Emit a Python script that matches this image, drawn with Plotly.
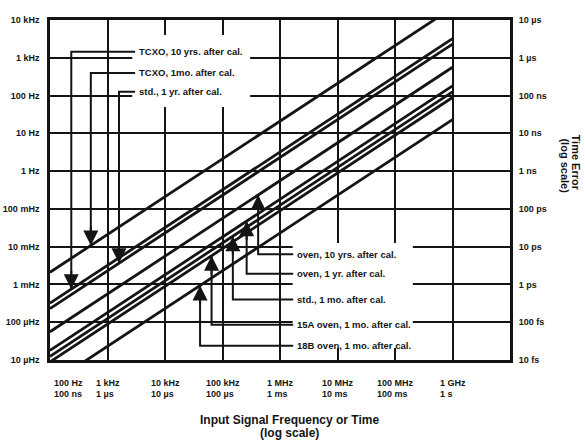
import math
import plotly.graph_objects as go

# ---------------- data ----------------
series_names = [
    "TCXO, 1mo. after cal.",
    "TCXO, 10 yrs. after cal.",
    "std., 1 yr. after cal.",
    "oven, 10 yrs. after cal.",
    "oven, 1 yr. after cal.",
    "std., 1 mo. after cal.",
    "15A oven, 1 mo. after cal.",
    "18B oven, 1 mo. after cal.",
]
line_freqs = [1e2, 1e9]                      # Hz, start / end of every line
err_at_100Hz = [2.1e-3, 3.2e-4, 2.3e-4, 5.6e-5, 1.8e-5, 1.25e-5, 8.9e-6, 2.3e-6]   # Hz
err_at_1GHz = [2.1e4, 3.2e3, 2.3e3, 5.6e2, 1.8e2, 1.25e2, 8.9e1, 2.3e1]            # Hz

x_tick_vals = [1e2, 1e3, 1e4, 1e5, 1e6, 1e7, 1e8, 1e9]
x_freq_text = ["100 Hz", "1 kHz", "10 kHz", "100 kHz", "1 MHz", "10 MHz", "100 MHz", "1 GHz"]
x_time_text = ["100 ns", "1 µs", "10 µs", "100 µs", "1 ms", "10 ms", "100 ms", "1 s"]

y_tick_vals = [1e-5, 1e-4, 1e-3, 1e-2, 1e-1, 1e0, 1e1, 1e2, 1e3, 1e4]
y_tick_text = ["10 µHz", "100 µHz", "1 mHz", "10 mHz", "100 mHz", "1 Hz", "10 Hz", "100 Hz", "1 kHz", "10 kHz"]

t_tick_vals = [1e-14, 1e-13, 1e-12, 1e-11, 1e-10, 1e-9, 1e-8, 1e-7, 1e-6, 1e-5]
t_tick_text = ["10 fs", "100 fs", "1 ps", "10 ps", "100 ps", "1 ns", "10 ns", "100 ns", "1 µs", "10 µs"]

# ---------------- layout helpers (positions in log10 units) ----------------
# (series index, label height, arrow x)
upper_callouts = [(1, 3.16, 2.37), (0, 2.60, 2.71), (2, 2.10, 3.20)]
upper_label_x = 3.48
lower_callouts = [(3, -2.20, 5.62), (4, -2.72, 5.42), (5, -3.40, 5.18), (6, -4.07, 4.81), (7, -4.62, 4.61)]
lower_label_x = 6.23

INK = "#141414"
FONT = "Liberation Sans, Arial, sans-serif"


def y_on_line(i, lx):
    """log10 of series i at log10 frequency lx (straight line on log-log axes)."""
    a0, a1 = math.log10(line_freqs[0]), math.log10(line_freqs[1])
    b0, b1 = math.log10(err_at_100Hz[i]), math.log10(err_at_1GHz[i])
    return b0 + (lx - a0) / (a1 - a0) * (b1 - b0)


fig = go.Figure()

for i, name in enumerate(series_names):
    fig.add_trace(go.Scatter(
        x=line_freqs, y=[err_at_100Hz[i], err_at_1GHz[i]], mode="lines", name=name,
        line=dict(color=INK, width=2.8), showlegend=False))

# invisible trace to anchor the time-error axis
fig.add_trace(go.Scatter(x=line_freqs, y=[t_tick_vals[0], t_tick_vals[-1]], yaxis="y2",
                         mode="lines", line=dict(width=0), hoverinfo="skip", showlegend=False))

annotations = []
shapes = []

# white label backgrounds interrupting the grid
shapes.append(dict(type="rect", xref="x", yref="y", layer="between",
                   x0=10 ** 3.43, x1=10 ** 5.48, y0=10 ** 1.7, y1=10 ** 3.6,
                   fillcolor="white", line=dict(width=0)))
shapes.append(dict(type="rect", xref="x", yref="y", layer="between",
                   x0=10 ** 6.22, x1=10 ** 8.31, y0=10 ** -4.68, y1=10 ** -1.9,
                   fillcolor="white", line=dict(width=0)))


def callout(i, ly, tx, lab_x, down):
    ty = y_on_line(i, tx)
    fig.add_trace(go.Scatter(
        x=[10 ** tx, 10 ** tx, 10 ** lab_x], y=[10 ** ty, 10 ** ly, 10 ** ly],
        mode="lines", line=dict(color=INK, width=2), hoverinfo="skip", showlegend=False))
    annotations.append(dict(x=tx, y=ty, xref="x", yref="y", text="", showarrow=True,
                            ax=0, ay=-20 if down else 20, arrowhead=2, arrowsize=1.5,
                            arrowwidth=2, arrowcolor=INK, standoff=0))
    annotations.append(dict(x=lab_x, y=ly, xref="x", yref="y", text="<b>" + series_names[i] + "</b>",
                            showarrow=False, xanchor="left", yanchor="middle", xshift=2,
                            font=dict(family=FONT, size=9.5, color=INK)))


for i, ly, tx in upper_callouts:
    callout(i, ly, tx, upper_label_x, True)
for i, ly, tx in lower_callouts:
    callout(i, ly, tx, lower_label_x, False)

# x tick labels (two rows: frequency / time)
for k, (v, ft, tt) in enumerate(zip(x_tick_vals, x_freq_text, x_time_text)):
    xs = 18 if k == 0 else 0
    annotations.append(dict(x=math.log10(v), y=-0.068, xref="x", yref="paper", text="<b>" + ft + "</b>",
                            showarrow=False, xanchor="center", yanchor="middle", xshift=xs,
                            font=dict(family=FONT, size=9, color=INK)))
    annotations.append(dict(x=math.log10(v), y=-0.068, xref="x", yref="paper",
                            text="<b><span style='color:rgba(0,0,0,0)'>" + ft + "</span><br>" + tt + "</b>",
                            showarrow=False, xanchor="center", yanchor="top", yshift=8,
                            align="left", xshift=xs,
                            font=dict(family=FONT, size=9, color=INK)))

# axis titles (each line placed separately to keep the tight line spacing)
annotations.append(dict(x=0.52, y=-0.176, xref="paper", yref="paper",
                        text="<b>Input Signal Frequency or Time</b>", showarrow=False,
                        xanchor="center", yanchor="middle",
                        font=dict(family=FONT, size=12, color=INK)))
annotations.append(dict(x=0.52, y=-0.214, xref="paper", yref="paper",
                        text="<b>(log scale)</b>", showarrow=False,
                        xanchor="center", yanchor="middle",
                        font=dict(family=FONT, size=12, color=INK)))
annotations.append(dict(x=1.144, y=0.58, xref="paper", yref="paper",
                        text="<b>Time Error</b>", showarrow=False, textangle=90,
                        xanchor="center", yanchor="middle",
                        font=dict(family=FONT, size=11, color=INK)))
annotations.append(dict(x=1.119, y=0.57, xref="paper", yref="paper",
                        text="<b>(log scale)</b>", showarrow=False, textangle=90,
                        xanchor="center", yanchor="middle",
                        font=dict(family=FONT, size=11, color=INK)))

tick_font = dict(family=FONT, size=9, color=INK, weight="bold")

fig.update_layout(
    width=585, height=442,
    margin=dict(l=50, r=75, t=20, b=82, autoexpand=False),
    paper_bgcolor="white", plot_bgcolor="white",
    showlegend=False,
    xaxis=dict(type="log", range=[2, 10], tickvals=x_tick_vals, showticklabels=False,
               showgrid=True, gridcolor=INK, gridwidth=1.6, ticks="", automargin=False,
               showline=True, mirror=True, linecolor=INK, linewidth=2.6, zeroline=False),
    yaxis=dict(type="log", range=[-5, 4], tickvals=y_tick_vals, ticktext=y_tick_text,
               showgrid=True, gridcolor=INK, gridwidth=1.6, ticks="outside", ticklen=6,
               tickcolor="rgba(0,0,0,0)", tickfont=tick_font, automargin=False,
               showline=True, mirror=True, linecolor=INK, linewidth=2.6, zeroline=False),
    yaxis2=dict(type="log", range=[-14, -5], overlaying="y", side="right",
                tickvals=t_tick_vals, ticktext=t_tick_text, showgrid=False,
                ticks="outside", ticklen=6, tickcolor="rgba(0,0,0,0)", automargin=False,
                tickfont=tick_font,
                showline=False, zeroline=False),
    annotations=annotations, shapes=shapes,
)

# remove the browser's default 8 px page margin so the figure sits at the window origin
fig.write_html("out.html", config={"displayModeBar": False},
               post_script="document.body.style.margin='0px';")
